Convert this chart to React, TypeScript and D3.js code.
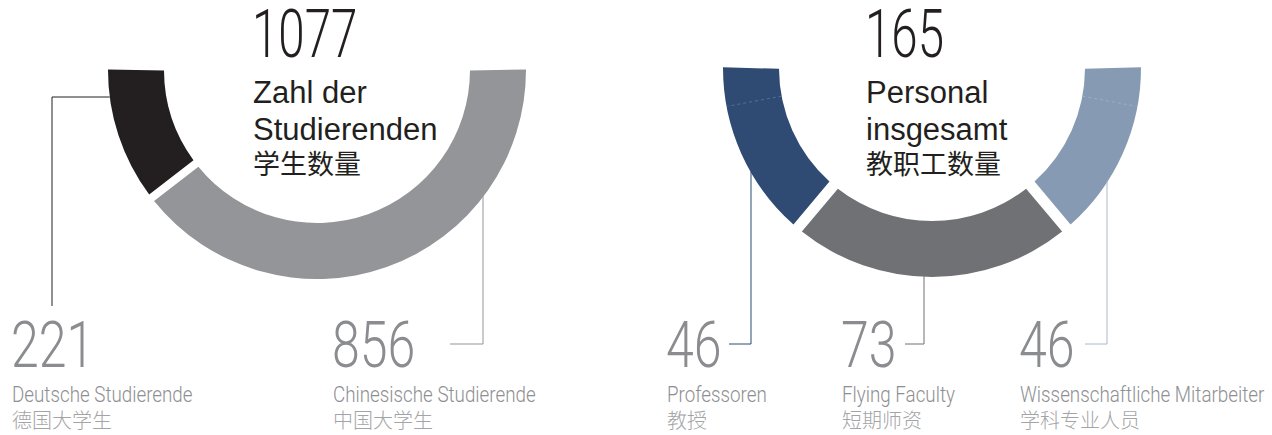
import React from 'react';
import * as d3 from 'd3';

// ---------- data ----------
const studentCategories = ['Deutsche Studierende', 'Chinesische Studierende'];
const studentCategoriesZh = ['德国大学生', '中国大学生'];
const studentValues = [221, 856];
const studentTotal = 1077;
const studentTitle = ['Zahl der', 'Studierenden'];
const studentTitleZh = '学生数量';

const staffCategories = ['Professoren', 'Flying Faculty', 'Wissenschaftliche Mitarbeiter'];
const staffCategoriesZh = ['教授', '短期师资', '学科专业人员'];
const staffValues = [46, 73, 46];
const staffTotal = 165;
const staffTitle = ['Personal', 'insgesamt'];
const staffTitleZh = '教职工数量';

// ---------- styles ----------
const studentColors = ['#231f20', '#949598'];
const staffColors = ['#2f4b74', '#707175', '#869ab3'];
const studentLeaderColors = ['#231f20', '#949598'];
const staffLeaderColors = ['#2f4b74', '#707175', '#a9b8ca'];

const W = 1272;
const H = 435;
const DARK = '#231f20';
const NUM_GRAY = '#8b8c8f';
const LABEL_GRAY = '#8e8f92';
const ZH_GRAY = '#a3a4a6';

type Leader =
  | { kind: 'h'; y: number; x: number; endY: number }
  | { kind: 'v'; x: number; elbowY: number; endX: number };

interface DonutCfg {
  cx: number;
  cy: number;
  R: number;
  r: number;
  gap: number;
  titleX: number;
  labelX: number[];
  leaders: Leader[];
  seamDeg?: number;
}

const studentCfg: DonutCfg = {
  cx: 317,
  cy: 70,
  R: 209,
  r: 153,
  gap: 8,
  titleX: 253,
  labelX: [12, 333],
  leaders: [
    { kind: 'h', y: 97, x: 52, endY: 306 },
    { kind: 'v', x: 483, elbowY: 344, endX: 450 },
  ],
};

const staffCfg: DonutCfg = {
  cx: 932,
  cy: 68,
  R: 209,
  r: 153,
  gap: 11,
  titleX: 866,
  labelX: [667, 842, 1020],
  leaders: [
    { kind: 'v', x: 751, elbowY: 344, endX: 729 },
    { kind: 'v', x: 924, elbowY: 344, endX: 905 },
    { kind: 'v', x: 1107, elbowY: 344, endX: 1085 },
  ],
  seamDeg: 10.6,
};

function leaderPath(cfg: DonutCfg, l: Leader): string {
  const p = d3.path();
  if (l.kind === 'h') {
    const dy = l.y - cfg.cy;
    const xs = cfg.cx - Math.sqrt(cfg.R * cfg.R - dy * dy);
    p.moveTo(xs, l.y);
    p.lineTo(l.x, l.y);
    p.lineTo(l.x, l.endY);
  } else {
    const dx = l.x - cfg.cx;
    const ys = cfg.cy + Math.sqrt(cfg.R * cfg.R - dx * dx);
    p.moveTo(l.x, ys - 1);
    p.lineTo(l.x, l.elbowY);
    p.lineTo(l.endX, l.elbowY);
  }
  return p.toString();
}

function Donut(props: {
  cfg: DonutCfg;
  values: number[];
  colors: string[];
  leaderColors: string[];
  total: number;
  title: string[];
  titleZh: string;
  categories: string[];
  categoriesZh: string[];
}) {
  const { cfg, values, colors, leaderColors, total, title, titleZh, categories, categoriesZh } = props;
  const padR = (cfg.R + cfg.r) / 2;
  const pad = cfg.gap / padR;
  const pie = d3
    .pie<number>()
    .sort(null)
    .value((d) => d)
    .startAngle(1.5 * Math.PI + pad / 2)
    .endAngle(0.5 * Math.PI - pad / 2)
    .padAngle(pad);
  const arc = d3
    .arc<d3.PieArcDatum<number>>()
    .innerRadius(cfg.r)
    .outerRadius(cfg.R)
    .padRadius(padR);
  const arcs = pie(values);

  const seams: { x1: number; y1: number; x2: number; y2: number }[] = [];
  if (cfg.seamDeg !== undefined) {
    const t = (cfg.seamDeg * Math.PI) / 180;
    [-1, 1].forEach((s) => {
      seams.push({
        x1: cfg.cx + s * cfg.r * Math.cos(t),
        y1: cfg.cy + cfg.r * Math.sin(t),
        x2: cfg.cx + s * (cfg.R - 1) * Math.cos(t),
        y2: cfg.cy + (cfg.R - 1) * Math.sin(t),
      });
    });
  }

  return (
    <g>
      <g transform={`translate(${cfg.cx},${cfg.cy})`}>
        {arcs.map((a, i) => (
          <path key={i} d={arc(a) || ''} fill={colors[i]} />
        ))}
      </g>
      {seams.map((s, i) => (
        <line
          key={'s' + i}
          x1={s.x1}
          y1={s.y1}
          x2={s.x2}
          y2={s.y2}
          stroke="#ffffff"
          strokeOpacity={0.2}
          strokeWidth={1}
          strokeDasharray="3 3"
        />
      ))}
      {cfg.leaders.map((l, i) => (
        <path key={'l' + i} d={leaderPath(cfg, l)} fill="none" stroke={leaderColors[i]} strokeWidth={1} />
      ))}

      {/* center title */}
      <text
        transform={`translate(${cfg.titleX - 1},57) scale(0.72,1)`}
        fontFamily="Roboto, 'Liberation Sans', sans-serif"
        fontWeight={300}
        fontSize={66}
        fill={DARK}
      >
        {String(total)}
      </text>
      {title.map((t, i) => (
        <text
          key={'t' + i}
          x={cfg.titleX}
          y={103 + i * 37}
          fontFamily="'Liberation Sans', Arial, sans-serif"
          fontSize={31}
          fill={DARK}
        >
          {t}
        </text>
      ))}
      <text
        x={cfg.titleX}
        y={174}
        fontFamily="'Noto Sans CJK SC', sans-serif"
        fontSize={27}
        fill={DARK}
      >
        {titleZh}
      </text>

      {/* bottom labels */}
      {values.map((v, i) => (
        <g key={'b' + i}>
          <text
            transform={`translate(${cfg.labelX[i] - 1},367) scale(0.77,1)`}
            fontFamily="Roboto, 'Liberation Sans', sans-serif"
            fontWeight={300}
            fontSize={65}
            fill={NUM_GRAY}
          >
            {String(v)}
          </text>
          <text
            transform={`translate(${cfg.labelX[i]},402) scale(0.855,1)`}
            fontFamily="Roboto, 'Liberation Sans', sans-serif"
            fontWeight={300}
            fontSize={22}
            fill={LABEL_GRAY}
          >
            {categories[i]}
          </text>
          <text
            x={cfg.labelX[i]}
            y={428}
            fontFamily="'Noto Sans CJK SC', sans-serif"
            fontWeight={300}
            fontSize={20}
            fill={ZH_GRAY}
          >
            {categoriesZh[i]}
          </text>
        </g>
      ))}
    </g>
  );
}

export default function App() {
  return (
    <svg
      width={W}
      height={H}
      viewBox={`0 0 ${W} ${H}`}
      style={{ position: 'absolute', left: 0, top: 0, background: '#ffffff' }}
    >
      <rect width={W} height={H} fill="#ffffff" />
      <Donut
        cfg={studentCfg}
        values={studentValues}
        colors={studentColors}
        leaderColors={studentLeaderColors}
        total={studentTotal}
        title={studentTitle}
        titleZh={studentTitleZh}
        categories={studentCategories}
        categoriesZh={studentCategoriesZh}
      />
      <Donut
        cfg={staffCfg}
        values={staffValues}
        colors={staffColors}
        leaderColors={staffLeaderColors}
        total={staffTotal}
        title={staffTitle}
        titleZh={staffTitleZh}
        categories={staffCategories}
        categoriesZh={staffCategoriesZh}
      />
    </svg>
  );
}
